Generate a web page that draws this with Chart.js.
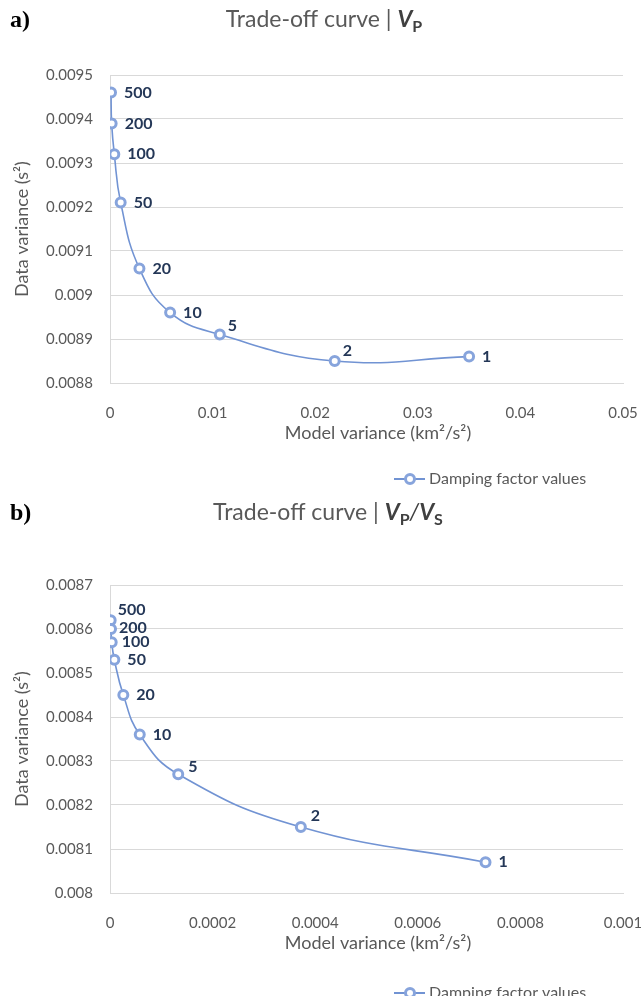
<!DOCTYPE html>
<html>
<head>
<meta charset="utf-8">
<script src="https://cdn.jsdelivr.net/npm/chart.js@4.4.0/dist/chart.umd.min.js"></script>
<style>
  html, body { margin: 0; padding: 0; background: #fff; }
  body { width: 641px; height: 996px; position: relative; overflow: hidden; }
  .panel { position: absolute; left: 0; width: 641px; height: 500px; }
</style>
</head>
<body>
<div class="panel" style="top:0"><canvas id="chartA" width="641" height="500"></canvas></div>
<div class="panel" style="top:496px"><canvas id="chartB" width="641" height="500"></canvas></div>
<script>
// damping factor for each point
const dampingLabels = ['500', '200', '100', '50', '20', '10', '5', '2', '1'];

// a) Vp
const modelVarA = [0.0001, 0.00016, 0.00042, 0.00104, 0.00287, 0.00586, 0.0107, 0.0219, 0.035];
const dataVarA = [0.00946, 0.00939, 0.00932, 0.00921, 0.00906, 0.00896, 0.00891, 0.00885, 0.00886];
const xTicksA = [0, 0.01, 0.02, 0.03, 0.04, 0.05];
const yTicksA = [0.0088, 0.0089, 0.009, 0.0091, 0.0092, 0.0093, 0.0094, 0.0095];

// b) Vp/Vs
const modelVarB = [0.0000013, 0.000002, 0.0000033, 0.0000085, 0.000026, 0.000058, 0.000133, 0.000372, 0.000732];
const dataVarB = [0.00862, 0.0086, 0.00857, 0.00853, 0.00845, 0.00836, 0.00827, 0.00815, 0.00807];
const xTicksB = [0, 0.0002, 0.0004, 0.0006, 0.0008, 0.001];
const yTicksB = [0.008, 0.0081, 0.0082, 0.0083, 0.0084, 0.0085, 0.0086, 0.0087];

const FONT = 'Lato';
const TEXT_GRAY = '#595959';
const GRID = '#d9d9d9';
const LINE_BLUE = '#7193d3';
const MARKER_BLUE = '#87a4dc';
const LABEL_NAVY = '#243757';

const fmt = v => String(Number(v.toPrecision(6)));

const decoPlugin = {
  id: 'deco',
  afterDatasetsDraw(chart, args, opts) {
    const ctx = chart.ctx;
    const meta = chart.getDatasetMeta(0);
    ctx.save();
    ctx.font = `bold 16px ${FONT}`;
    ctx.fillStyle = LABEL_NAVY;
    ctx.textAlign = 'left';
    ctx.textBaseline = 'middle';
    meta.data.forEach((pt, i) => {
      const lab = dampingLabels[i];
      const off = opts.labelOffsets[lab] || [13, 0];
      ctx.fillText(lab, pt.x + off[0], pt.y + off[1]);
    });
    ctx.restore();
  },
  afterDraw(chart, args, opts) {
    const ctx = chart.ctx;
    const area = chart.chartArea;
    ctx.save();

    // panel letter
    ctx.font = 'bold 24px "Liberation Serif"';
    ctx.fillStyle = '#000';
    ctx.textAlign = 'left';
    ctx.textBaseline = 'alphabetic';
    ctx.fillText(opts.panel, 10, opts.titleY);

    // title with italic V and subscripts
    let total = 0;
    opts.titleParts.forEach(s => { ctx.font = s.font; s.w = ctx.measureText(s.t).width; total += s.w; });
    let x = opts.titleX - total / 2;
    opts.titleParts.forEach(s => {
      ctx.font = s.font;
      ctx.fillStyle = s.color;
      ctx.fillText(s.t, x, opts.titleY + (s.sub ? 5 : 0));
      x += s.w;
    });

    // axis titles
    ctx.font = `18px ${FONT}`;
    ctx.fillStyle = TEXT_GRAY;
    ctx.textAlign = 'center';
    ctx.textBaseline = 'middle';
    ctx.fillText('Model variance (km\u00B2/s\u00B2)', 378, area.bottom + 50);
    ctx.save();
    ctx.translate(22, (area.top + area.bottom) / 2);
    ctx.rotate(-Math.PI / 2);
    ctx.fillText('Data variance (s\u00B2)', 0, 0);
    ctx.restore();

    // legend
    const ly = opts.legendY;
    ctx.strokeStyle = LINE_BLUE;
    ctx.lineWidth = 2;
    ctx.beginPath();
    ctx.moveTo(394, ly);
    ctx.lineTo(425, ly);
    ctx.stroke();
    ctx.beginPath();
    ctx.arc(410, ly, 4.5, 0, Math.PI * 2);
    ctx.fillStyle = '#fff';
    ctx.fill();
    ctx.lineWidth = 3;
    ctx.strokeStyle = MARKER_BLUE;
    ctx.stroke();
    ctx.font = `16px ${FONT}`;
    ctx.fillStyle = TEXT_GRAY;
    ctx.textAlign = 'left';
    ctx.fillText('Damping factor values', 429, ly);
    ctx.restore();
  }
};

function vParts(subs) {
  const parts = [{ t: 'Trade-off curve | ', font: `23px ${FONT}`, color: TEXT_GRAY }];
  subs.forEach((s, i) => {
    if (i > 0) parts.push({ t: '/', font: `italic 23px ${FONT}`, color: '#404040' });
    parts.push({ t: 'V', font: `italic bold 23px ${FONT}`, color: '#404040' });
    parts.push({ t: s, font: `bold 16px ${FONT}`, color: '#404040', sub: true });
  });
  return parts;
}

function makeChart(id, xs, ys, xTicks, yTicks, top, bottomPad, deco) {
  const fixTicks = list => scale => { scale.ticks = list.map(v => ({ value: v })); };
  new Chart(document.getElementById(id), {
    type: 'scatter',
    plugins: [decoPlugin],
    data: {
      datasets: [{
        label: 'Damping factor values',
        data: xs.map((x, i) => ({ x: x, y: ys[i] })),
        showLine: true,
        tension: 0.45,
        borderColor: LINE_BLUE,
        borderWidth: 1.6,
        pointRadius: 4.5,
        pointBorderWidth: 3,
        pointBorderColor: MARKER_BLUE,
        pointBackgroundColor: '#fff'
      }]
    },
    options: {
      responsive: false,
      animation: false,
      events: [],
      layout: { padding: { left: 0, right: 18, top: top, bottom: bottomPad } },
      scales: {
        x: {
          min: xTicks[0],
          max: xTicks[xTicks.length - 1],
          afterBuildTicks: fixTicks(xTicks),
          afterFit: s => { s.height = 40; s.paddingLeft = 0; s.paddingRight = 0; },
          grid: { display: false },
          border: { display: true, color: GRID, width: 1 },
          ticks: {
            color: TEXT_GRAY, padding: 13,
            font: { family: FONT, size: 15 },
            maxRotation: 0,
            callback: v => fmt(v)
          }
        },
        y: {
          min: yTicks[0],
          max: yTicks[yTicks.length - 1],
          afterBuildTicks: fixTicks(yTicks),
          afterFit: s => { s.width = 110; s.paddingTop = 0; s.paddingBottom = 0; },
          grid: { color: GRID, lineWidth: 1, drawTicks: false },
          border: { display: true, color: GRID, width: 1 },
          ticks: {
            color: TEXT_GRAY, padding: 17,
            font: { family: FONT, size: 15 },
            callback: v => fmt(v)
          }
        }
      },
      plugins: {
        legend: { display: false },
        tooltip: { enabled: false },
        deco: deco
      }
    }
  });
}

makeChart('chartA', modelVarA, dataVarA, xTicksA, yTicksA, 75, 77, {
  panel: 'a)',
  titleX: 324,
  titleY: 27,
  titleParts: vParts(['P']),
  legendY: 479,
  labelOffsets: { '5': [8, -9], '2': [8, -10] }
});

makeChart('chartB', modelVarB, dataVarB, xTicksB, yTicksB, 89, 63, {
  panel: 'b)',
  titleX: 328,
  titleY: 24,
  titleParts: vParts(['P', 'S']),
  legendY: 497,
  labelOffsets: { '500': [7, -10], '200': [8, -1], '100': [10, 0], '5': [10, -7], '2': [10, -11] }
});
</script>
</body>
</html>
